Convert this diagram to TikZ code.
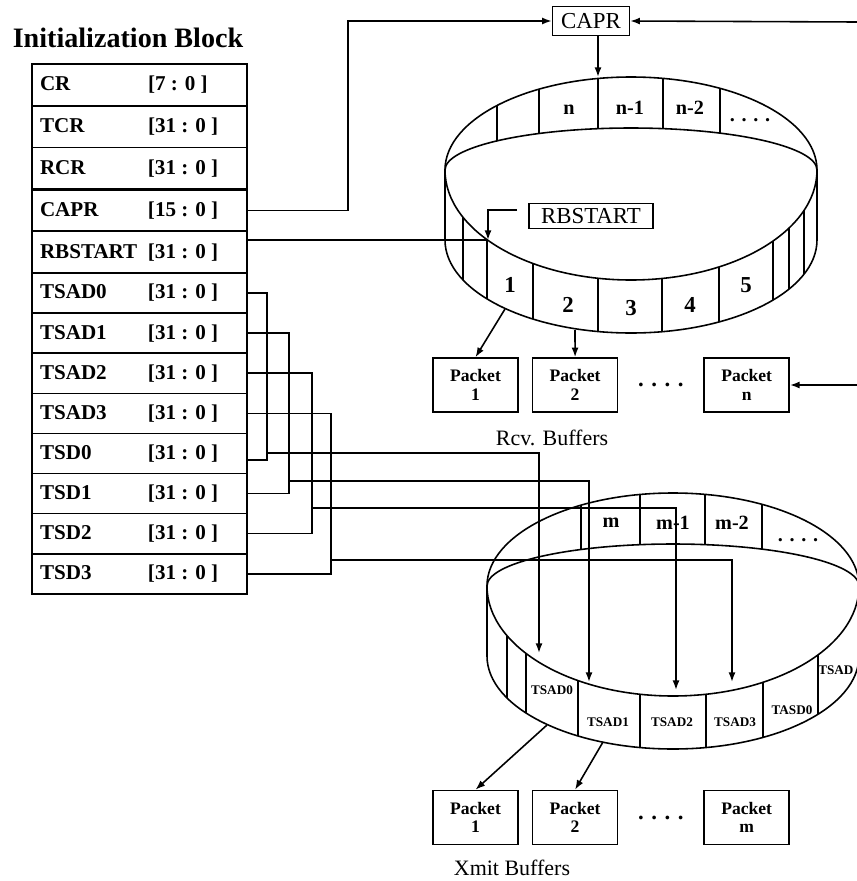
\documentclass[tikz,border=0pt]{standalone}
\usepackage{fontspec}
\setmainfont{Liberation Serif}
\usetikzlibrary{arrows.meta,positioning}

\newcommand{\regrow}[2]{\makebox[21.6mm][l]{#1}\makebox[18.2mm][l]{#2}}
% ring buffer drawn round (0,0): back band, front band and its slots
\newcommand{\ringbody}[1]{%
  \draw (-186,0) arc[start angle=180,end angle=360,x radius=186,y radius=93];
  \draw (-186,0) arc[start angle=180,end angle=360,x radius=186,y radius=42];
  \draw (-186,0) arc[start angle=180,end angle=0,x radius=186,y radius=110];
  \draw (-186,0) -- (-186,70) arc[start angle=180,end angle=0,x radius=186,y radius=93] -- (186,0);
  \begin{scope}
    \clip (-186,0) arc[start angle=180,end angle=360,x radius=186,y radius=93]
      arc[start angle=0,end angle=-180,x radius=186,y radius=42];
    \draw (-134,-100) -- (-134,0) (-92,-100) -- (-92,0) (-33,-100) -- (-33,0)
      (32,-100) -- (32,0) (89,-100) -- (89,0);
  \end{scope}
  \begin{scope}
    \clip (-186,0) arc[start angle=180,end angle=0,x radius=186,y radius=110]
      -- (186,70) arc[start angle=0,end angle=180,x radius=186,y radius=93] -- cycle;
    \foreach \x in {#1} \draw (\x,0) -- (\x,170);
  \end{scope}}

\begin{document}
\begin{tikzpicture}[x=0.2mm,y=-0.2mm,line width=0.9pt,>={Latex[length=5.5pt,width=4pt]},
  title/.style={font=\fontsize{16}{18}\selectfont\bfseries},
  reg/.style={draw,outer sep=0pt,inner xsep=1.6mm,inner ysep=0pt,minimum height=8.02mm,
    font=\fontsize{12}{14}\selectfont\bfseries},
  tall/.style={minimum height=8.36mm},
  ptr/.style={draw,inner sep=0pt,font=\fontsize{13}{15}\selectfont},
  pkt/.style={draw,minimum width=17mm,minimum height=10.8mm,inner sep=0pt,align=center,
    font=\fontsize{10}{10.5}\selectfont\bfseries},
  dots/.style={font=\fontsize{13}{15}\selectfont\bfseries},
  slot/.style={font=\fontsize{11.5}{13}\selectfont\bfseries},
  num/.style={font=\fontsize{13}{15}\selectfont\bfseries},
  tslot/.style={font=\fontsize{7.5}{9}\selectfont\bfseries},
  caption/.style={font=\fontsize{12.5}{15}\selectfont}]
  \useasboundingbox (0,0) rectangle (857,881);

  % initialization block
  \node[title] (ttl) at (128,38) {Initialization Block};
  \node[reg,tall,anchor=north west] (cr) at (32,64) {\regrow{CR}{[7 : 0 ]}};
  \node[reg,tall,below=0pt of cr] (tcr) {\regrow{TCR}{[31 : 0 ]}};
  \node[reg,tall,below=0pt of tcr] (rcr) {\regrow{RCR}{[31 : 0 ]}};
  \node[reg,tall,below=0pt of rcr] (capr) {\regrow{CAPR}{[15 : 0 ]}};
  \node[reg,tall,below=0pt of capr] (rbstart) {\regrow{RBSTART}{[31 : 0 ]}};
  \node[reg,below=0pt of rbstart] (tsad0) {\regrow{TSAD0}{[31 : 0 ]}};
  \node[reg,below=0pt of tsad0] (tsad1) {\regrow{TSAD1}{[31 : 0 ]}};
  \node[reg,below=0pt of tsad1] (tsad2) {\regrow{TSAD2}{[31 : 0 ]}};
  \node[reg,below=0pt of tsad2] (tsad3) {\regrow{TSAD3}{[31 : 0 ]}};
  \node[reg,below=0pt of tsad3] (tsd0) {\regrow{TSD0}{[31 : 0 ]}};
  \node[reg,below=0pt of tsd0] (tsd1) {\regrow{TSD1}{[31 : 0 ]}};
  \node[reg,below=0pt of tsd1] (tsd2) {\regrow{TSD2}{[31 : 0 ]}};
  \node[reg,below=0pt of tsd2] (tsd3) {\regrow{TSD3}{[31 : 0 ]}};
  \draw[line width=1.6pt] (rcr.south west) -- (rcr.south east);

  % receive ring
  \node[ptr,minimum width=15.4mm,minimum height=5.8mm] (caprbox) at (591,21) {CAPR};
  \node[ptr,minimum width=24.8mm,minimum height=5mm] (rbbox) at (591,216) {RBSTART};
  \begin{scope}[shift={(631,170)}]
    \ringbody{-168,-144,-98,-33,31,88,142,158,173}
    \node[slot] (rn) at (-62,-60) {n};
    \node[slot] (rn1) at (-1,-62) {n-1};
    \node[slot] (rn2) at (59,-62) {n-2};
    \node[slot] (rdots) at (119,-50) {. . . .};
    \node[num] (r1) at (-121,115) {1};
    \node[num] (r2) at (-63,135) {2};
    \node[num] (r3) at (0,138) {3};
    \node[num] (r4) at (59,135) {4};
    \node[num] (r5) at (115,115) {5};
  \end{scope}
  \coordinate (rtop) at (598,77);
  \coordinate (rbtip) at (488,240);
  \coordinate (rbs) at (517,210);
  \coordinate (capin) at (857,22);
  \coordinate (pktin) at (857,385);
  \coordinate (ra) at (505,309);
  \coordinate (rb) at (575,330);

  \node[pkt] (pk1) at (475.5,385) {Packet\\1};
  \node[pkt,right=2.6mm of pk1] (pk2) {Packet\\2};
  \node[pkt,right=17mm of pk2] (pkn) {Packet\\n};
  \path (pk2) -- node[dots] (pdots) {. . . .} (pkn);
  \node[caption] (rcv) at (552,438) {Rcv. Buffers};

  \draw[->] (capr.east) -- ++(101,0) |- (caprbox.west);
  \draw[->] (capin) -- (caprbox.east);
  \draw[->] (caprbox.south -| rtop) -- (rtop);
  \draw (rbstart.east |- rbtip) -- (rbtip);
  \draw[->] (rbs) -| (rbtip);
  \draw[->] (ra) -- (pk1.north);
  \draw[->] (rb) -- (pk2.north);
  \draw[->] (pktin) -- (pkn.east);

  % transmit ring
  \begin{scope}[shift={(673,586)}]
    \ringbody{-166,-147,-95,-33,33,90,145}
    \node[slot] (xm) at (-62,-63) {m};
    \node[slot] (xm1) at (0,-63) {m-1};
    \node[slot] (xm2) at (59,-63) {m-2};
    \node[slot] (xdots) at (125,-46) {. . . .};
    \node[tslot] (x0) at (-121,104) {TSAD0};
    \node[tslot] (x1) at (-65,136) {TSAD1};
    \node[tslot] (x2) at (-1,136) {TSAD2};
    \node[tslot] (x3) at (62,136) {TSAD3};
    \node[tslot] (x4) at (119,124) {TASD0};
    \node[tslot,anchor=east,inner xsep=1pt] (x5) at (183,84) {TSAD};
  \end{scope}
  \coordinate (b0) at (267,453);
  \coordinate (b1) at (289,481);
  \coordinate (b2) at (312,508);
  \coordinate (b3) at (331,560);
  \coordinate (t0) at (539,653);
  \coordinate (t1) at (589,682);
  \coordinate (t2) at (676,690);
  \coordinate (t3) at (732,682);
  \coordinate (xa) at (547,725);
  \coordinate (xb) at (603,742);

  \draw (tsad0.east) -| (b0) |- ([yshift=-1.3mm]tsd0.east);
  \draw (tsad1.east) -| (b1) |- (tsd1.east);
  \draw (tsad2.east) -| (b2) |- (tsd2.east);
  \draw (tsad3.east) -| (b3) |- (tsd3.east);
  \draw[->] (b0) -| (t0);
  \draw[->] (b1) -| (t1);
  \draw[->] (b2) -| (t2);
  \draw[->] (b3) -| (t3);

  \node[pkt] (xp1) at (475.5,817.5) {Packet\\1};
  \node[pkt,right=2.6mm of xp1] (xp2) {Packet\\2};
  \node[pkt,right=17mm of xp2] (xpm) {Packet\\m};
  \path (xp2) -- node[dots] (xpdots) {. . . .} (xpm);
  \node[caption] (xmit) at (512,868) {Xmit Buffers};
  \draw[->] (xa) -- (xp1.north);
  \draw[->] (xb) -- (xp2.north);
\end{tikzpicture}
\end{document}
